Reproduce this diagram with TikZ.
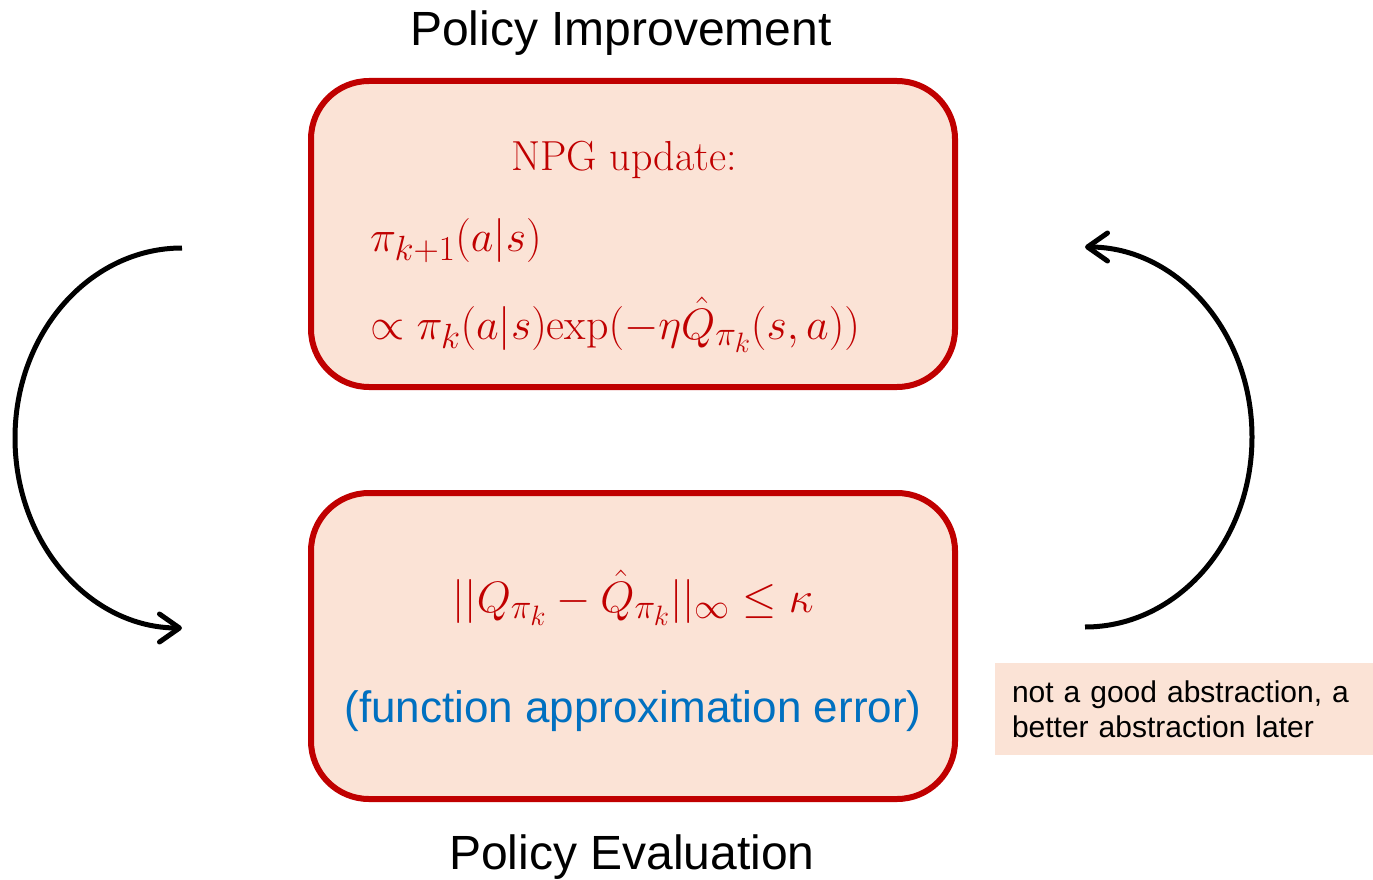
\documentclass[tikz,border=0pt]{standalone}
\usepackage{fix-cm}
\usepackage{fontspec}
\newfontfamily\arial{Liberation Sans}
\usetikzlibrary{arrows.meta}

\definecolor{boxred}{HTML}{C00000}
\definecolor{boxfill}{HTML}{FBE3D6}
\definecolor{noteblue}{HTML}{0070C0}

% larger sub- and superscripts for the formulas
\DeclareMathSizes{44}{44}{35}{28}

\tikzset{
  stagebox/.style={draw=boxred, fill=boxfill, line width=6pt,
    rounded corners=58pt, minimum width=644pt, minimum height=306pt, inner sep=0pt},
  heading/.style={font=\arial\fontsize{48}{56}\selectfont, anchor=base, inner sep=0pt},
  mathline/.style={text=boxred, font=\fontsize{44}{52}\selectfont, inner sep=0pt},
  notebox/.style={fill=boxfill, minimum width=378pt, minimum height=92pt,
    text width=344pt, align=left, inner sep=0pt,
    font=\arial\fontsize{30}{35}\selectfont},
  cycle arrow/.style={line width=5pt,
    -{Straight Barb[length=20pt, width=28pt, line cap=round, line join=round]}}
}

\begin{document}
\begin{tikzpicture}[x=1pt, y=-1pt]
  \useasboundingbox (0,0) rectangle (1373,880);

  % the two stages of the loop
  \node[stagebox] (improve) at (633,234) {};
  \node[stagebox] (evaluate) at (633,646) {};

  \node[heading] (improvetitle) at (621,46) {Policy Improvement};
  \node[heading] (evaltitle) at (632,869) {Policy Evaluation};

  % policy improvement step
  \node[text=boxred, font=\fontsize{42}{50}\selectfont, inner sep=0pt, anchor=base]
    (npg) at (624,171) {NPG update:};
  \node[mathline, anchor=base west] (npgleft) at (370,251) {$\pi_{k+1}(a|s)$};
  \node[mathline, anchor=base west] (npgright) at (370,339)
    {$\propto \pi_k(a|s)\mathrm{exp}(-\eta\hat{Q}_{\pi_k}(s,a))$};

  % policy evaluation step
  \node[mathline, anchor=base] (errbound) at (633,612)
    {$||Q_{\pi_k}-\hat{Q}_{\pi_k}||_\infty \le \kappa$};
  \node[font=\arial\fontsize{44}{52}\selectfont, text=noteblue, anchor=base, inner sep=0pt]
    (errlabel) at (633,722) {(function approximation error)};

  % side remark
  \node[notebox] (note) at (1184,709) {not a good abstraction, a\\better abstraction later};

  % loop arrows
  \coordinate (leftstart) at (182,248);
  \coordinate (rightstart) at (1085,627);
  \draw[cycle arrow] (leftstart) arc[start angle=270, end angle=90, x radius=167, y radius=190];
  \draw[cycle arrow] (rightstart) arc[start angle=90, end angle=-90, x radius=167, y radius=190];
\end{tikzpicture}
\end{document}
